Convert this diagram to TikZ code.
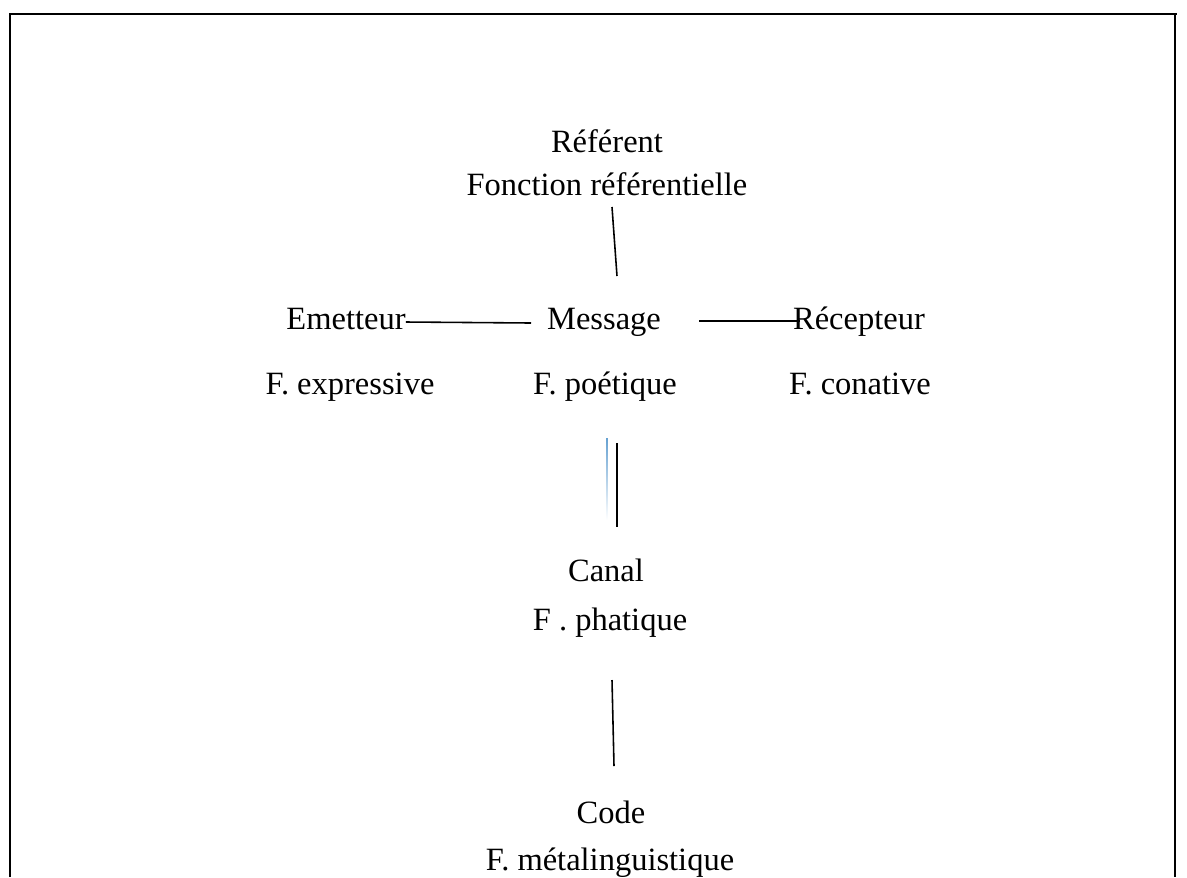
\documentclass[tikz,border=0pt]{standalone}
\usepackage{fontspec}
\setmainfont{Liberation Serif}
\usepackage{xcolor}
\usepackage{tikz}

\begin{document}
\begin{tikzpicture}[
  x=0.02cm,y=-0.02cm,
  term/.style={anchor=base,inner sep=0pt,font=\fontsize{18.5}{22}\selectfont},
  link/.style={line width=0.9pt}
]
 \useasboundingbox (0,0) rectangle (1187,877);
 % frame, open at the bottom
 \draw[line width=1.3pt] (10,877) -- (10,14) -- (1177,14);
 \draw[line width=0.8pt] (1175,14) -- (1175,877);

 \node[term] (ref) at (607,152) {Référent};
 \node[term] (fref) at (607,195) {Fonction référentielle};
 \node[term] (emet) at (346,329) {Emetteur};
 \node[term] (msg) at (604,329) {Message};
 \node[term] (recep) at (859,329) {Récepteur};
 \node[term] (fexp) at (350,394) {F. expressive};
 \node[term] (fpoe) at (605,394) {F. poétique};
 \node[term] (fcon) at (860,394) {F. conative};
 \node[term] (canal) at (606,581) {Canal};
 \node[term] (fpha) at (610,630) {F . phatique};
 \node[term] (code) at (611,823) {Code};
 \node[term] (fmeta) at (610,870) {F. métalinguistique};

 \coordinate (a1) at (612,207);
 \coordinate (a2) at (617,276);
 \coordinate (b1) at (emet.east |- 0,322);
 \coordinate (b2) at (531,323);
 \coordinate (c1) at (699,321);
 \coordinate (c2) at (800,321);
 \coordinate (d1) at (617,443);
 \coordinate (d2) at (617,527);
 \coordinate (e1) at (612,680);
 \coordinate (e2) at (614,766);

 \draw[link] (a1) -- (a2);
 \draw[link] (b1) -- (b2);
 \draw[link] (c1) -- (c2);
 \draw[link] (d1) -- (d2);
 \draw[link] (e1) -- (e2);
 % faded blue stroke beside the canal line
 \shade[top color=blue!45!cyan!70!black!60,bottom color=white]
   (606.2,438) rectangle (607.8,520);
\end{tikzpicture}
\end{document}
